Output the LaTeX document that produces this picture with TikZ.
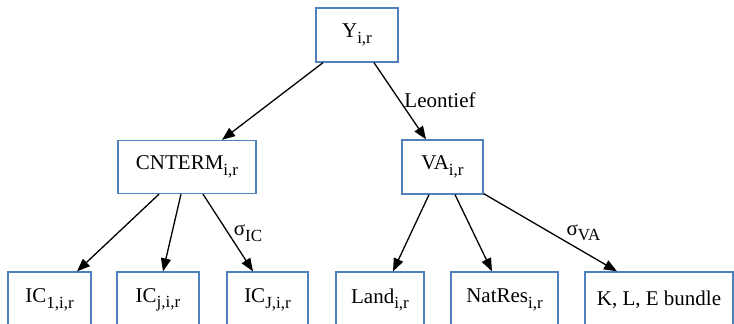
\documentclass[tikz,border=0pt]{standalone}
\usepackage{fontspec}
\setmainfont{Liberation Serif}
\usetikzlibrary{arrows.meta,calc}
\definecolor{boxblue}{RGB}{79,129,189}
\newcommand{\sbx}[1]{\raisebox{-5.5pt}{\fontsize{17}{17}\selectfont #1}}
\tikzset{
  box/.style={draw=boxblue,line width=1.3pt,rectangle,inner sep=0pt,
    font=\fontsize{21}{24}\selectfont,text=black},
  conn/.style={line width=1.3pt,-{Triangle[length=13pt,width=10pt]}},
  lab/.style={font=\fontsize{21}{24}\selectfont,inner sep=0pt}
}
\begin{document}
\begin{tikzpicture}[x=1pt,y=1pt]
\useasboundingbox (0,0) rectangle (734,-324);
\node[box,minimum width=82pt,minimum height=54pt] (Y) at (357,-35) {Y\sbx{i,r}};
\node[box,minimum width=138pt,minimum height=53pt] (C) at (187,-167) {CNTERM\sbx{i,r}};
\node[box,minimum width=81pt,minimum height=54pt] (VA) at (442.5,-167) {VA\sbx{i,r}};
\node[box,minimum width=83pt,minimum height=56pt] (IC1) at (49.5,-300) {IC\sbx{1,i,r}};
\node[box,minimum width=82pt,minimum height=56pt] (ICj) at (158,-300) {IC\sbx{j,i,r}};
\node[box,minimum width=81pt,minimum height=56pt] (ICJ) at (267.5,-300) {IC\sbx{J,i,r}};
\node[box,minimum width=88pt,minimum height=56pt] (Land) at (380,-300) {Land\sbx{i,r}};
\node[box,minimum width=107pt,minimum height=56pt] (Nat) at (504.5,-300) {NatRes\sbx{i,r}};
\node[box,minimum width=148pt,minimum height=56pt] (KLE) at (659,-300) {K, L, E bundle};

\draw[conn] ($(Y.south)+(-34,0)$) -- ($(C.north)+(35,0)$);
\draw[conn] ($(Y.south)+(17,0)$) -- ($(VA.north)+(-16.5,0)$);
\draw[conn] ($(C.south)+(-28,0)$) -- ($(IC1.north)+(27.5,0)$);
\draw[conn] ($(C.south)+(-6,0)$) -- ($(ICj.north)+(5,0)$);
\draw[conn] ($(C.south)+(16,0)$) -- ($(ICJ.north)+(-14.5,0)$);
\draw[conn] ($(VA.south)+(-13.5,0)$) -- ($(Land.north)+(13,0)$);
\draw[conn] ($(VA.south)+(12.5,0)$) -- ($(Nat.north)+(-12.5,0)$);
\draw[conn] ($(VA.south east)+(0,1)$) -- ($(KLE.north)+(-42,0)$);

\node[lab] (l1) at (440,-100) {Leontief};
\node[lab] (l2) at (248,-233) {σ\sbx{IC}};
\node[lab] (l3) at (583.5,-233) {σ\sbx{VA}};
\end{tikzpicture}
\end{document}
